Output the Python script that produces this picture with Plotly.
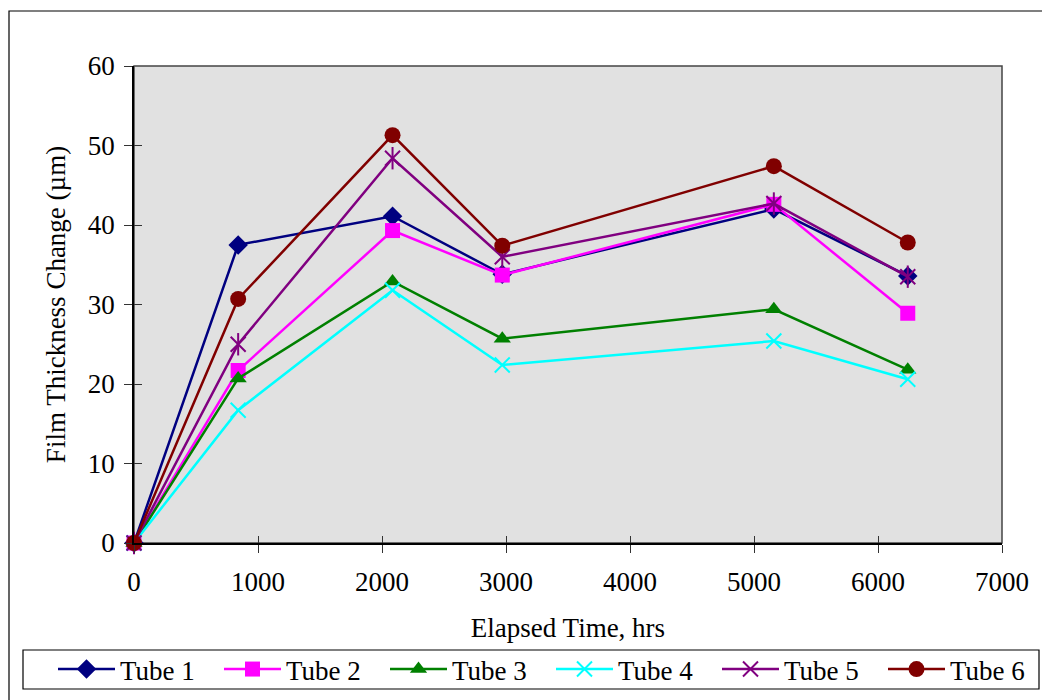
import plotly.graph_objects as go

# Elapsed time (hrs) at each inspection
elapsed_hrs = [0, 840, 2085, 2970, 5160, 6240]

# Film thickness change (µm) per tube
tube1 = [0, 37.5, 41.1, 33.8, 42.0, 33.6]
tube2 = [0, 21.7, 39.3, 33.7, 42.6, 28.9]
tube3 = [0, 20.7, 32.9, 25.7, 29.4, 21.8]
tube4 = [0, 16.7, 31.8, 22.4, 25.4, 20.6]
tube5 = [0, 25.0, 48.4, 36.0, 42.7, 33.5]
tube6 = [0, 30.7, 51.3, 37.4, 47.4, 37.8]

series_names = ["Tube 1", "Tube 2", "Tube 3", "Tube 4", "Tube 5", "Tube 6"]
series_values = [tube1, tube2, tube3, tube4, tube5, tube6]
colors = ["#000080", "#FF00FF", "#008000", "#00FFFF", "#800080", "#800000"]
symbols = ["diamond", "square", "triangle-up", "x-thin-open", "x-thin-open", "circle"]
sizes = [15, 15, 15, 15, 15, 16]

FONT = "Liberation Serif, Times New Roman, serif"
FS = 27

# plot-area geometry in pixels
L, R, T, B, W, H = 134, 1002, 66, 543, 1042, 700
PW, PH = R - L, B - T
ENTRY_STEP = 166  # horizontal spacing of legend entries


def px_x(p):
    return (p - L) / PW


def px_y(p):
    return (B - p) / PH


fig = go.Figure()
for i, (name, vals, col, sym, sz) in enumerate(
        zip(series_names, series_values, colors, symbols, sizes)):
    open_sym = sym.endswith("open")
    # last entry sits in its own legend so the row does not wrap
    leg = "legend2" if i == len(series_names) - 1 else "legend"
    fig.add_trace(go.Scatter(
        x=elapsed_hrs, y=vals, name=name, mode="lines+markers",
        line=dict(color=col, width=2.5),
        marker=dict(symbol=sym, size=sz, color=col,
                    line=dict(color=col, width=2 if open_sym else 0)),
        legendgroup=name, legend=leg, cliponaxis=False,
    ))
    if name == "Tube 5":
        # vertical stroke completes the star marker
        fig.add_trace(go.Scatter(
            x=elapsed_hrs, y=vals, mode="markers", showlegend=False,
            legendgroup=name, hoverinfo="skip", cliponaxis=False,
            marker=dict(symbol="line-ns-open", size=16, color=col,
                        line=dict(color=col, width=2)),
        ))

axis_common = dict(
    showgrid=False, zeroline=False, showline=True, linecolor="black",
    linewidth=1.5, ticks="outside", ticklen=8, tickcolor="#333",
    tickwidth=1, tickfont=dict(family=FONT, size=FS, color="black"),
)

legend_common = dict(
    orientation="h", xref="container", yref="container",
    y=1 - 645 / H, xanchor="left", yanchor="top",
    borderwidth=0, bgcolor="rgba(0,0,0,0)",
    itemwidth=57, entrywidth=ENTRY_STEP - 72, entrywidthmode="pixels",
    font=dict(family=FONT, size=FS), itemsizing="trace",
)

fig.update_layout(
    width=W, height=H,
    margin=dict(l=L, r=W - R, t=T, b=H - B, autoexpand=False),
    paper_bgcolor="white", plot_bgcolor="#E1E1E1",
    font=dict(family=FONT, size=FS, color="black"),
    xaxis=dict(range=[0, 7000], dtick=1000, **axis_common,
               ticklabelstandoff=6,
               title=dict(text="Elapsed Time, hrs", standoff=22,
                          font=dict(family=FONT, size=FS))),
    yaxis=dict(range=[0, 60], dtick=10, **axis_common,
               ticklabelstandoff=4,
               title=dict(text="Film Thickness Change (µm)", standoff=14,
                          font=dict(family=FONT, size=FS))),
    # inside halves of the crossing tick marks
    xaxis2=dict(overlaying="x", matches="x", range=[0, 7000], dtick=1000,
                showgrid=False, zeroline=False, showline=False,
                ticks="inside", ticklen=7, tickcolor="#333",
                showticklabels=False, side="bottom"),
    yaxis2=dict(overlaying="y", matches="y", range=[0, 60], dtick=10,
                showgrid=False, zeroline=False, showline=False,
                ticks="inside", ticklen=8, tickcolor="#333",
                showticklabels=False, side="left"),
    legend=dict(x=53 / W, **legend_common),
    legend2=dict(x=(53 + 5 * ENTRY_STEP) / W, **legend_common),
    showlegend=True,
    shapes=[
        # plot-area frame on top and right
        dict(type="rect", xref="paper", yref="paper", x0=0, x1=1, y0=0, y1=1,
             line=dict(color="#444", width=1.5), layer="below"),
        # outer chart border
        dict(type="rect", xref="paper", yref="paper",
             x0=px_x(9), x1=px_x(1046), y0=px_y(710), y1=px_y(11),
             line=dict(color="black", width=1.2), layer="below"),
        # legend box
        dict(type="rect", xref="paper", yref="paper",
             x0=px_x(23), x1=px_x(1039), y0=px_y(689), y1=px_y(650),
             line=dict(color="black", width=1.2), fillcolor="white",
             layer="below"),
    ],
)

# placeholder trace so the overlay axes render
fig.add_trace(go.Scatter(x=[None], y=[None], xaxis="x2", yaxis="y2",
                         showlegend=False, hoverinfo="skip"))

fig.write_html("out.html")
